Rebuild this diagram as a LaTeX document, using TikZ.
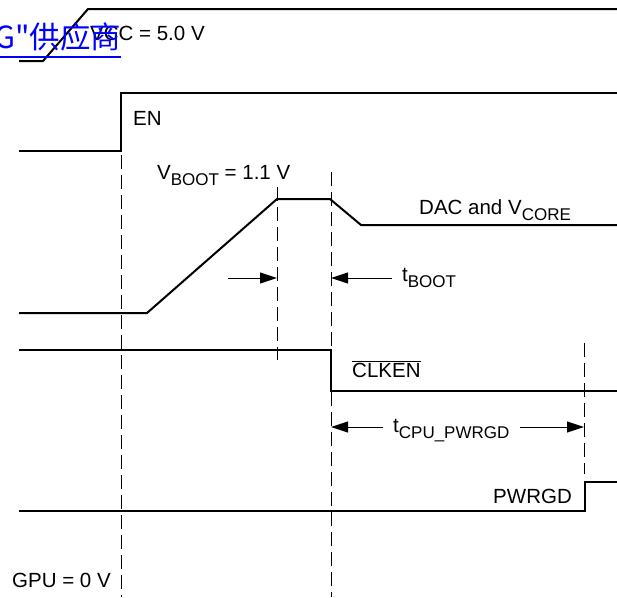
\documentclass[tikz,border=0pt]{standalone}
\usepackage{fontspec}
\setmainfont{Liberation Sans}
\newfontfamily\cjk{Noto Sans CJK SC}
\usetikzlibrary{arrows.meta}

\definecolor{LinkBlue}{rgb}{0,0,1}

\newcommand{\lowtext}[1]{\raisebox{-0.3em}{\fontsize{17}{17}\selectfont #1}}
\newcommand{\drawmarker}[3]{ % Parameters: x, top, bottom
  \draw[draw=black,line width=1pt,dash pattern=on 14pt off 6pt] (#1,#2) -- (#1,#3);
}
\newcommand{\drawlabel}[4]{ % Parameters: name, x, baseline, text
  \node[anchor=base west,inner sep=0pt] (#1) at (#2,#3) {#4};
}

\begin{document}
\begin{tikzpicture}[x=1pt,y=-1pt,font=\fontsize{20.5}{20.5}\selectfont,
    signal/.style={draw=black,line width=2pt,line join=miter},
    timing/.style={draw=black,line width=1pt,-{Triangle[length=17pt,width=11pt]}}]
    \useasboundingbox (0,0) rectangle (617,597);
    % markers
    \drawmarker{121}{155}{597}
    \drawmarker{277}{187}{360}
    \drawmarker{331}{172}{597}
    \drawmarker{584}{343}{474}
    % signals
    \draw[signal] (19,61) -- ++(24,0) -- (88,9) -- (617,9);
    \draw[signal] (19,151) -- (121,151) -- (121,93) -- (617,93);
    \draw[signal] (19,313) -- (147,313) -- (277,199) -- (330,199) -- (361,225) -- (617,225);
    \draw[signal] (19,350) -- (331,350) -- (331,391) -- (617,391);
    \draw[signal] (19,511) -- (585,511) -- (585,482) -- (617,482);
    % labels
    \drawlabel{vcc}{90}{40}{VCC = 5.0 V}
    \drawlabel{en}{133}{125}{EN}
    \drawlabel{vboot}{157}{179}{V\lowtext{BOOT} = 1.1 V}
    \drawlabel{dac}{419}{214}{DAC and V\lowtext{CORE}}
    \drawlabel{tboot}{402}{281}{t\lowtext{BOOT}}
    \drawlabel{clken}{352}{377}{$\overline{\mbox{CLKEN}}$}
    \drawlabel{tcpu}{393}{432}{t\lowtext{CPU\_PWRGD}}
    \node[anchor=base east,inner sep=0pt] (pwrgd) at (572,503) {PWRGD};
    \drawlabel{gpu}{12}{587}{GPU = 0 V}
    \node[anchor=base west,inner sep=0pt,text=LinkBlue] (link) at (-6,48)
      {\cjk\fontsize{30.5}{30.5}\selectfont G"供应商};
    \draw[draw=LinkBlue,line width=2pt] ([yshift=-9pt]link.base west) -- ([yshift=-9pt]link.base east);
    % timing arrows
    \coordinate (bootL) at (228,278);
    \coordinate (bootA) at (277,278);
    \coordinate (bootR) at (392,278);
    \coordinate (bootB) at (331,278);
    \coordinate (cpuL) at (383,427);
    \coordinate (cpuA) at (331,427);
    \coordinate (cpuR) at (520,427);
    \coordinate (cpuB) at (584,427);
    \draw[timing] (bootL) -- (bootA);
    \draw[timing] (bootR) -- (bootB);
    \draw[timing] (cpuL) -- (cpuA);
    \draw[timing] (cpuR) -- (cpuB);
  \end{tikzpicture}
\end{document}
